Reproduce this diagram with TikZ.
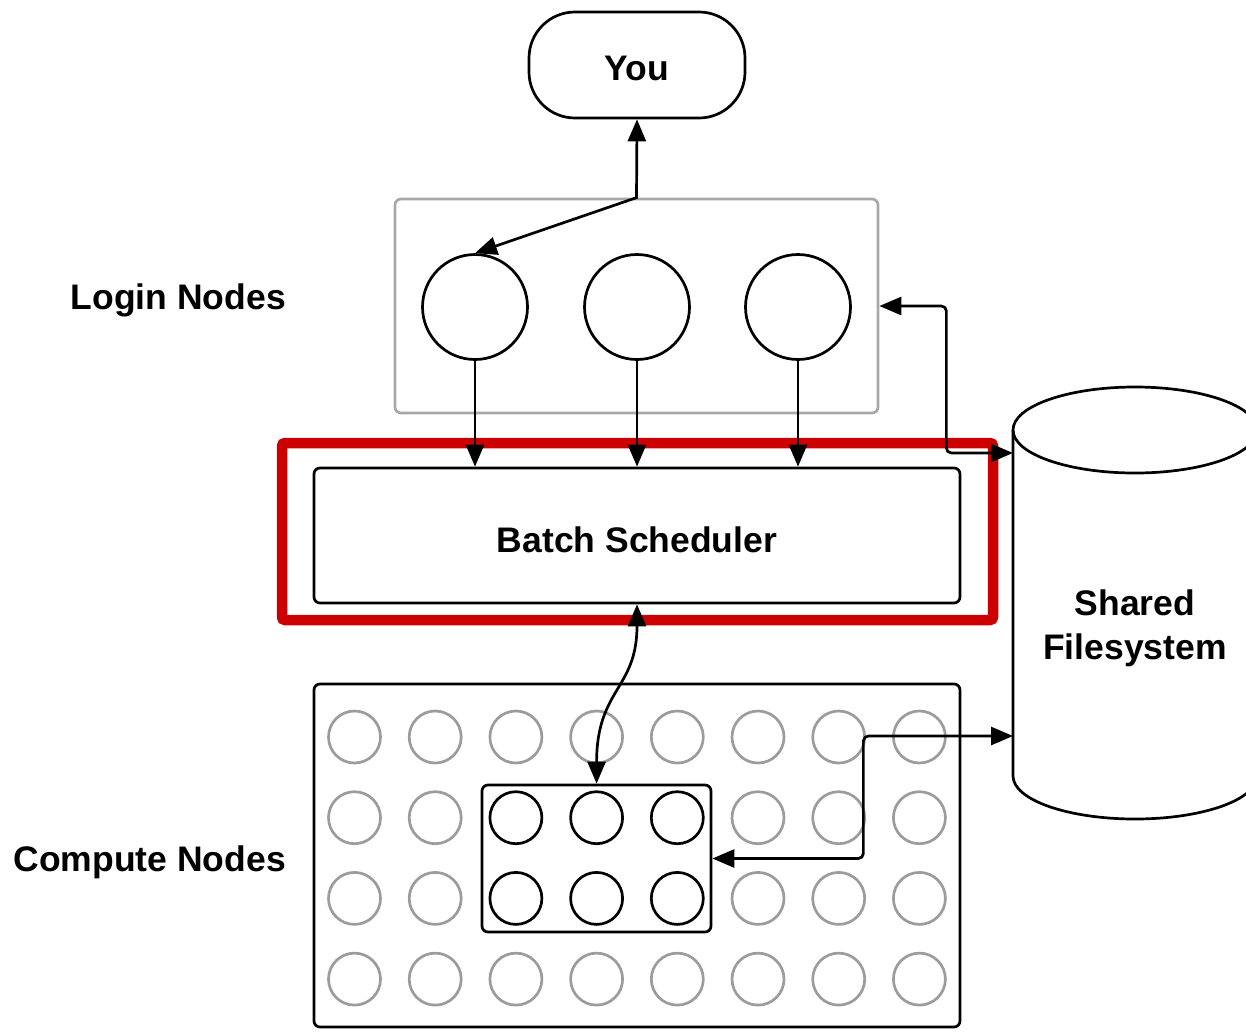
\documentclass[tikz,border=0pt]{standalone}
\usepackage{fontspec}
\setmainfont{Liberation Sans}
\usetikzlibrary{arrows.meta}
\definecolor{idlegray}{HTML}{9C9C9C}
\definecolor{boxgray}{HTML}{A8A8A8}
\definecolor{focusred}{HTML}{CC0000}
\begin{document}
\begin{tikzpicture}[x=1pt,y=-1pt,
  ink/.style={line width=2.7pt, draw=black},
  biarrow/.style={ink, {Triangle[length=22pt,width=18pt]}-{Triangle[length=22pt,width=18pt]}},
  toarrow/.style={ink, -{Triangle[length=22pt,width=18pt]}},
  lbl/.style={font=\fontsize{35.5}{44}\selectfont\bfseries, inner sep=0pt},
  hostnode/.style={circle, ink, minimum size=105pt, inner sep=0pt},
  idlenode/.style={circle, line width=2.7pt, draw=idlegray, minimum size=52pt, inner sep=0pt},
  busynode/.style={circle, ink, minimum size=52pt, inner sep=0pt},
  panel/.style={ink, rounded corners=6pt, inner sep=0pt}
]
\useasboundingbox (0,0) rectangle (1246,1031);
\clip (0,0) rectangle (1246,1031);

% user
\node[ink, rounded corners=46pt, minimum width=216pt, minimum height=106pt,
      lbl, text height=30pt, text depth=0pt] (you) at (637,65) {You};

% login nodes
\node[line width=2.7pt, draw=boxgray, rounded corners=6pt, minimum width=483pt,
      minimum height=214pt] (login) at (636.5,306) {};
\node[hostnode] (l1) at (475,307) {};
\node[hostnode] (l2) at (637,307) {};
\node[hostnode] (l3) at (798,307) {};
\node[lbl, anchor=base east] (loginlbl) at (286,309) {Login Nodes};

% scheduler
\node[panel, minimum width=646pt, minimum height=135pt, lbl,
      text height=33pt, text depth=0pt] (batch) at (637,535.5) {Batch Scheduler};
\draw[line width=10.5pt, draw=focusred, rounded corners=3pt] (282,443) rectangle (993,620);

% compute nodes
\node[panel, minimum width=646pt, minimum height=343pt] (compute) at (637,855.5) {};
\node[panel, minimum width=229pt, minimum height=147pt] (sel) at (596.5,858.5) {};
\foreach \i in {0,...,7} {
  \foreach \j in {0,...,3} {
    \pgfmathtruncatemacro\busy{(\i>1)&&(\i<5)&&(\j>0)&&(\j<3)}
    \ifnum\busy=1
      \node[busynode] (g-\i-\j) at (354.5+80.7*\i, 737+80.7*\j) {};
    \else
      \node[idlenode] (g-\i-\j) at (354.5+80.7*\i, 737+80.7*\j) {};
    \fi
  }
}
\node[lbl, anchor=base east] (computelbl) at (286,871) {Compute Nodes};

% shared filesystem
\draw[ink] (1013,430) -- (1013,776)
  arc[start angle=180, end angle=360, x radius=122pt, y radius=43pt] -- (1257,430);
\draw[ink] (1135,430) ellipse[x radius=122pt, y radius=43pt];
\coordinate (fsA) at (1013,453);
\coordinate (fsB) at (1013,736);
\node[lbl, align=center] (fstext) at (1135,628) {Shared\\Filesystem};

% connectors
\draw[biarrow] (l1.north) -- (login.north) -- (you.south);
\foreach \n in {l1,l2,l3}
  \draw[toarrow] (\n.south) -- (\n.south |- batch.north);
\draw[biarrow] (batch.south) .. controls +(0,85) and +(0,-95) .. (sel.north -| g-3-1);
\draw[biarrow, rounded corners=5pt] (login.east) -- ++(67,0) |- (fsA);
\draw[biarrow, rounded corners=5pt] (sel.east) -- ++(151,0) |- (fsB);
\end{tikzpicture}
\end{document}
